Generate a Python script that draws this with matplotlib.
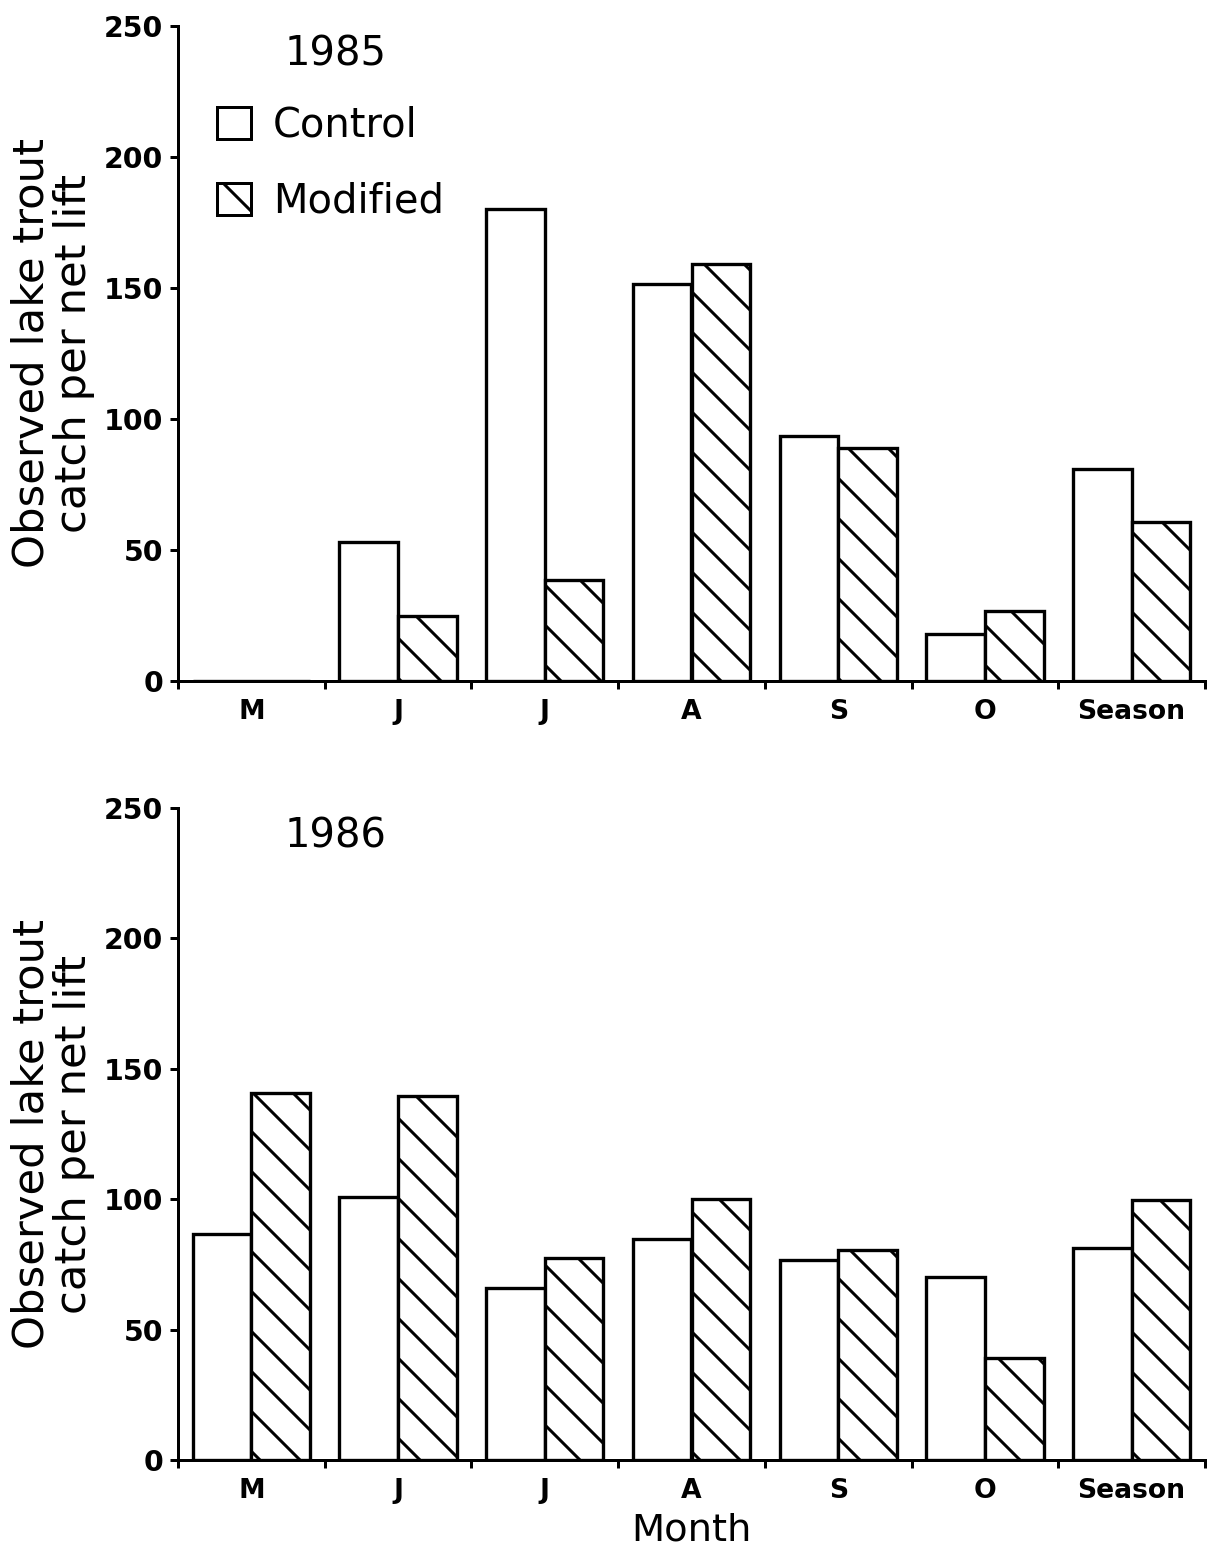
import numpy as np
import matplotlib
matplotlib.use("Agg")
import matplotlib.pyplot as plt
from matplotlib.patches import Patch

months = ["M", "J", "J", "A", "S", "O", "Season"]
control_1985 = [0, 53, 180, 151.5, 93.5, 18, 81]
modified_1985 = [0, 25, 38.5, 159, 89, 26.7, 60.5]
control_1986 = [86.7, 100.8, 66, 84.8, 76.8, 70.2, 81.3]
modified_1986 = [140.7, 139.6, 77.5, 100.1, 80.5, 39.1, 99.8]
yticks = [0, 50, 100, 150, 200, 250]

DPI = 120
plt.rcParams['font.family'] = ['DejaVu Sans']
plt.rcParams['hatch.linewidth'] = 1.8
plt.rcParams['hatch.color'] = 'black'

fig = plt.figure(figsize=(1207 / DPI, 1556 / DPI), dpi=DPI)
W, H = 1207, 1556

def make_ax(y0px, y250px):
    left = 178 / W
    right = 1205 / W
    bottom = 1 - y0px / H
    top = 1 - y250px / H
    return fig.add_axes([left, bottom, right - left, top - bottom])

ax1 = make_ax(681, 26)
ax2 = make_ax(1460, 808)

bw = 0.4
x = np.arange(len(months))

def draw(ax, ctrl, mod, year, legend=False):
    ax.bar(x - bw / 2, ctrl, width=bw, facecolor='white', edgecolor='black', linewidth=2.0)
    ax.bar(x + bw / 2, mod, width=bw, facecolor='white', edgecolor='black', linewidth=2.0, hatch='\\')
    ax.set_xlim(-0.5, len(months) - 0.5)
    ax.set_ylim(0, 250)
    ax.set_yticks(yticks)
    ax.set_yticklabels([str(v) for v in yticks], fontsize=17, fontweight='bold')
    ax.set_xticks(np.arange(len(months) + 1) - 0.5)
    ax.set_xticklabels([])
    ax.set_xticks(x, minor=True)
    ax.set_xticklabels(months, minor=True, fontsize=16, fontweight='bold')
    ax.tick_params(axis='x', which='minor', length=0, pad=11)
    ax.tick_params(axis='x', which='major', length=5, width=1.8, direction='out')
    ax.tick_params(axis='y', length=5, width=1.8, direction='out', pad=4)
    for s in ['top', 'right']:
        ax.spines[s].set_visible(False)
    for s in ['left', 'bottom']:
        ax.spines[s].set_linewidth(1.8)
    ax.set_ylabel("Observed lake trout\ncatch per net lift", fontsize=26, linespacing=1.0)
    ax.yaxis.set_label_coords(-0.081, 0.5)
    ax.text(0.104, 0.957, year, transform=ax.transAxes, fontsize=24, ha='left', va='center')
    if legend:
        handles = [Patch(facecolor='white', edgecolor='black', linewidth=1.8, label='Control'),
                   Patch(facecolor='white', edgecolor='black', linewidth=1.8, hatch='\\', label='Modified')]
        ax.legend(handles=handles, loc='upper left', bbox_to_anchor=(0.038, 0.878),
                  frameon=False, fontsize=24, handlelength=0.85, handleheight=0.82,
                  handletextpad=0.55, labelspacing=0.9, borderpad=0, borderaxespad=0)

draw(ax1, control_1985, modified_1985, "1985", legend=True)
draw(ax2, control_1986, modified_1986, "1986")
ax2.set_xlabel("Month", fontsize=23, labelpad=5)

fig.savefig("out.png", dpi=DPI)
